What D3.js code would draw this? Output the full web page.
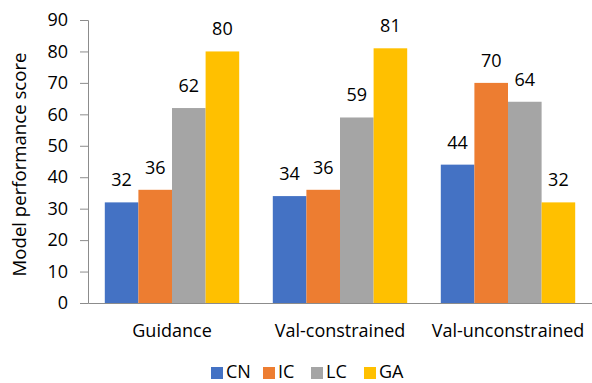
<!DOCTYPE html>
<html>
<head>
<meta charset="utf-8">
<script src="https://cdn.jsdelivr.net/npm/d3@7"></script>
<style>
  html, body { margin: 0; padding: 0; background: #fff; }
  svg { display: block; font-family: "Open Sans", "Noto Sans", sans-serif; }
</style>
</head>
<body>
<svg id="chart" width="592" height="383"></svg>
<script>
// Groups, series and their scores
const categories = ["Guidance", "Val-constrained", "Val-unconstrained"];
const seriesNames = ["CN", "IC", "LC", "GA"];
const seriesColors = ["#4472C4", "#ED7D31", "#A5A5A5", "#FFC000"];
const CN = [32, 34, 44];
const IC = [36, 36, 70];
const LC = [62, 59, 64];
const GA = [80, 81, 32];
const yTicks = [0, 10, 20, 30, 40, 50, 60, 70, 80, 90];
const yTitle = "Model performance score";

const seriesValues = [CN, IC, LC, GA];

(function () {
  const svg = d3.select("#chart");
  const plotLeft = 88, plotRight = 592, plotTop = 20, plotBottom = 303;
  const fs = 18;

  const x = d3.scaleBand().domain(categories).range([plotLeft, plotRight])
    .paddingInner(0.2).paddingOuter(0.1);
  const xs = d3.scaleBand().domain(seriesNames).range([0, x.bandwidth()]);
  const y = d3.scaleLinear().domain([0, 90]).range([plotBottom, plotTop]);

  // y axis
  const yAxis = svg.append("g").attr("transform", `translate(${plotLeft},0)`)
    .call(d3.axisLeft(y).tickValues(yTicks).tickSize(8).tickPadding(12).tickFormat(d3.format("d")));
  yAxis.select(".domain").attr("stroke", "#8c8c8c");
  yAxis.selectAll(".tick line").attr("stroke", "#8c8c8c");
  yAxis.selectAll(".tick text").attr("font-size", fs).attr("fill", "#000")
    .attr("font-family", "'Open Sans', sans-serif");

  const rows = i => seriesNames.map((s, k) => ({ s, k, v: seriesValues[k][i] }));

  // bars
  const groups = svg.append("g").selectAll("g").data(categories).join("g")
    .attr("transform", d => `translate(${x(d)},0)`);
  groups.selectAll("rect")
    .data((c, i) => rows(i))
    .join("rect")
    .attr("x", d => xs(d.s))
    .attr("width", xs.bandwidth())
    .attr("y", d => y(d.v))
    .attr("height", d => plotBottom - y(d.v))
    .attr("fill", d => seriesColors[d.k]);

  // value labels
  groups.selectAll("text")
    .data((c, i) => rows(i))
    .join("text")
    .attr("x", d => xs(d.s) + xs.bandwidth() / 2)
    .attr("y", d => y(d.v) - 16)
    .attr("text-anchor", "middle")
    .attr("font-size", fs)
    .attr("fill", "#000")
    .text(d => d.v);

  // x axis
  const xAxis = svg.append("g").attr("transform", `translate(0,${plotBottom})`)
    .call(d3.axisBottom(x).tickSize(0));
  xAxis.select(".domain").attr("stroke", "#8c8c8c");
  xAxis.selectAll(".tick text").attr("font-size", fs).attr("fill", "#000")
    .attr("font-family", "'Open Sans', sans-serif")
    .attr("y", 34).attr("dy", 0);

  // y axis title
  svg.append("text")
    .attr("transform", `translate(26,${(plotTop + plotBottom) / 2 + 3}) rotate(-90)`)
    .attr("text-anchor", "middle")
    .attr("font-size", 18.6)
    .attr("fill", "#000")
    .text(yTitle);

  // legend
  const legendX = [211, 263, 311, 364];
  const legend = svg.append("g").selectAll("g").data(seriesNames).join("g")
    .attr("transform", (d, i) => `translate(${legendX[i]},366)`);
  legend.append("rect").attr("y", 1).attr("width", 12).attr("height", 12)
    .attr("fill", (d, i) => seriesColors[i]);
  legend.append("text").attr("x", 15).attr("y", 12)
    .attr("font-size", fs).attr("fill", "#000").text(d => d);
})();
</script>
</body>
</html>
